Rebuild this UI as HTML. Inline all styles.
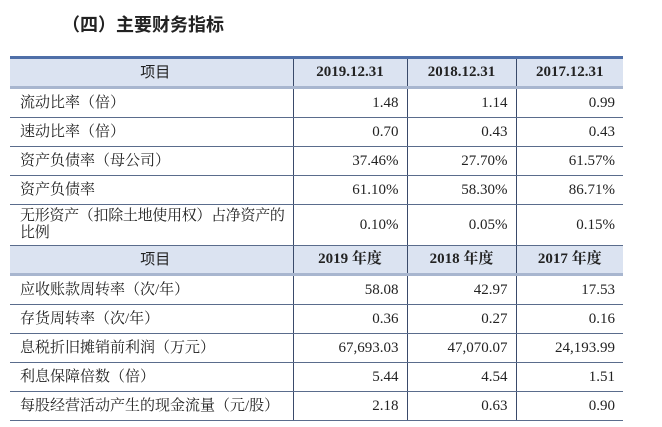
<!DOCTYPE html>
<html><head><meta charset="utf-8"><style>
body{margin:0;width:662px;height:427px;background:#fff;overflow:hidden;position:relative;font-family:"Liberation Serif","Noto Serif CJK SC",serif;color:#222;}
.t{position:absolute;left:62px;top:11px;font-family:"Liberation Sans","Noto Sans CJK SC",sans-serif;font-weight:bold;font-size:18px;color:#222;}
table{position:absolute;left:10px;top:56px;border-collapse:collapse;table-layout:fixed;width:613px;border-top:3px solid #4f6fa8;}
td{font-size:15px;padding:0 8px;border-bottom:1px solid #5a6c8c;border-left:1px solid #3a4a6a;height:28px;text-align:right;line-height:17px;white-space:nowrap;}
td:first-child{border-left:none;text-align:left;padding-left:10px;padding-right:2px;}
tr.h td{background:#dbe3f1;text-align:center;font-weight:bold;border-bottom:3px solid #a8b6cf;height:27px;}
tr.h td:first-child{text-align:center;font-weight:normal;font-family:"Liberation Sans","Noto Sans CJK SC",sans-serif;}
</style></head><body>
<div class="t">（四）主要财务指标</div>
<table>
<colgroup><col style="width:283px"><col style="width:114px"><col style="width:109px"><col style="width:107px"></colgroup>
<tr class="h"><td>项目</td><td>2019.12.31</td><td>2018.12.31</td><td>2017.12.31</td></tr>
<tr><td>流动比率（倍）</td><td>1.48</td><td>1.14</td><td>0.99</td></tr>
<tr><td>速动比率（倍）</td><td>0.70</td><td>0.43</td><td>0.43</td></tr>
<tr><td>资产负债率（母公司）</td><td>37.46%</td><td>27.70%</td><td>61.57%</td></tr>
<tr><td>资产负债率</td><td>61.10%</td><td>58.30%</td><td>86.71%</td></tr>
<tr><td style="height:40px;letter-spacing:-0.3px">无形资产（扣除土地使用权）占净资产的<br>比例</td><td>0.10%</td><td>0.05%</td><td>0.15%</td></tr>
<tr class="h"><td>项目</td><td>2019 年度</td><td>2018 年度</td><td>2017 年度</td></tr>
<tr><td>应收账款周转率（次/年）</td><td>58.08</td><td>42.97</td><td>17.53</td></tr>
<tr><td>存货周转率（次/年）</td><td>0.36</td><td>0.27</td><td>0.16</td></tr>
<tr><td>息税折旧摊销前利润（万元）</td><td>67,693.03</td><td>47,070.07</td><td>24,193.99</td></tr>
<tr><td>利息保障倍数（倍）</td><td>5.44</td><td>4.54</td><td>1.51</td></tr>
<tr><td>每股经营活动产生的现金流量（元/股）</td><td>2.18</td><td>0.63</td><td>0.90</td></tr>
</table>
</body></html>
